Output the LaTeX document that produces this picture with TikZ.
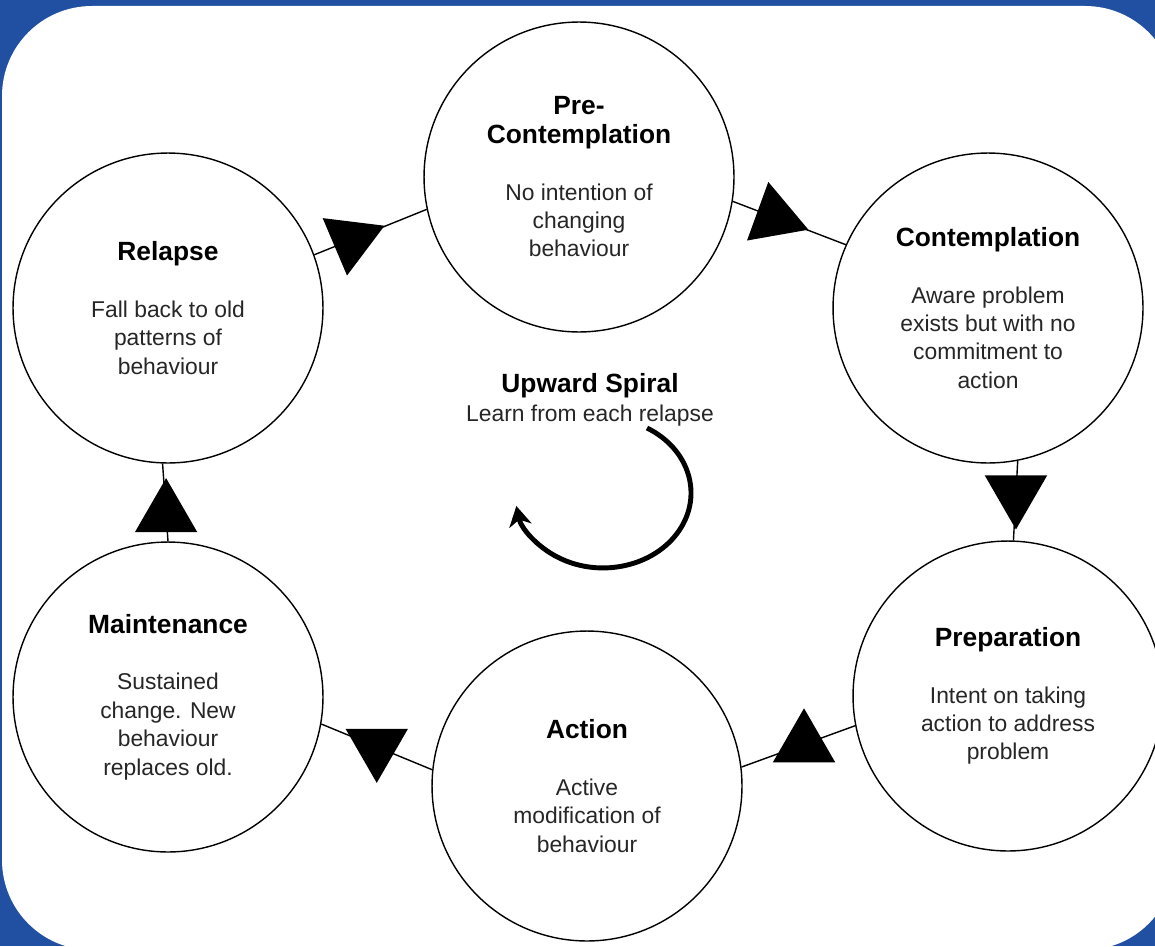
\documentclass[tikz,border=0pt]{standalone}
\usepackage{fontspec}
\setmainfont{Liberation Sans}
\usepackage{tikz}
\usetikzlibrary{positioning, shapes.geometric, arrows.meta}
\definecolor{bgblue}{RGB}{33,79,161}
\definecolor{bodygray}{RGB}{38,38,38}
\tikzset{
	stage/.append style={
		circle,
		draw,
		fill=white,
		line width=0.8pt,
		minimum size=6.2cm,
		inner sep=0mm,
		align=center,
		text=bodygray,
		font={\fontsize{13}{16.2}\selectfont}
	},
	tri/.append style={
		regular polygon,
		regular polygon sides=3,
		fill=black,
		minimum size=1.44cm,
		inner sep=0mm,
		outer sep=0mm
	},
	link/.append style={
		line width=0.8pt
	},
	labe/.append style={
		align=center,
		text=bodygray,
		font={\fontsize{13}{16.2}\selectfont}
	}
}
\newcommand{\stagetitle}[1]{{\color{black}\fontsize{15}{15}\selectfont\bfseries #1}}

\begin{document}
\begin{tikzpicture}[x=0.02cm, y=-0.02cm]
		\useasboundingbox (0,0) rectangle (1155,946);
		\clip (0,0) rectangle (1155,946);
		\fill[bgblue] (0,0) rectangle (1155,946);
		\fill[white, rounded corners=1.8cm] (2,6) rectangle (1175,950);
		
		\node(pre)[stage] at (579,177) {\stagetitle{Pre-}\\\stagetitle{Contemplation}\\[16pt]No intention of\\changing\\behaviour};
		\node(contemp)[stage] at (988,308) {\stagetitle{Contemplation}\\[16pt]Aware problem\\exists but with no\\commitment to\\action};
		\node(prep)[stage] at (1008,696) {\stagetitle{Preparation}\\[16pt]Intent on taking\\action to address\\problem};
		\node(action)[stage] at (587,786) {\stagetitle{Action}\\[16pt]Active\\modification of\\behaviour};
		\node(maint)[stage] at (168,697) {\stagetitle{Maintenance}\\[16pt]Sustained\\change. New\\behaviour\\replaces old.};
		\node(relapse)[stage] at (168,308) {\stagetitle{Relapse}\\[16pt]Fall back to old\\patterns of\\behaviour};
		
		\node(spiral)[labe] at (590,400) {\stagetitle{Upward Spiral}\\Learn from each relapse};
		
		\foreach \a/\aa/\b/\ba/\p/\r in {relapse/20/pre/192/0.33/173, pre/-9/contemp/156/0.37/-110, contemp/-79/prep/88/0.41/180, prep/191/action/7/0.45/0, action/174/maint/-10/0.5/180, maint/90/relapse/-92/0.35/0}{
			\draw[link] (\a.\aa) edge node[tri, pos=\p, rotate=\r] {} (\b.\ba);
		};
		
		\coordinate (spiralstart) at (647,428);
		\draw[line width=2.8pt, -{Stealth[length=4mm, width=4.5mm, inset=1.2mm]}] (spiralstart) arc[start angle=60, end angle=-170, x radius=1.76cm, y radius=1.5cm];
		
\end{tikzpicture}
\end{document}
